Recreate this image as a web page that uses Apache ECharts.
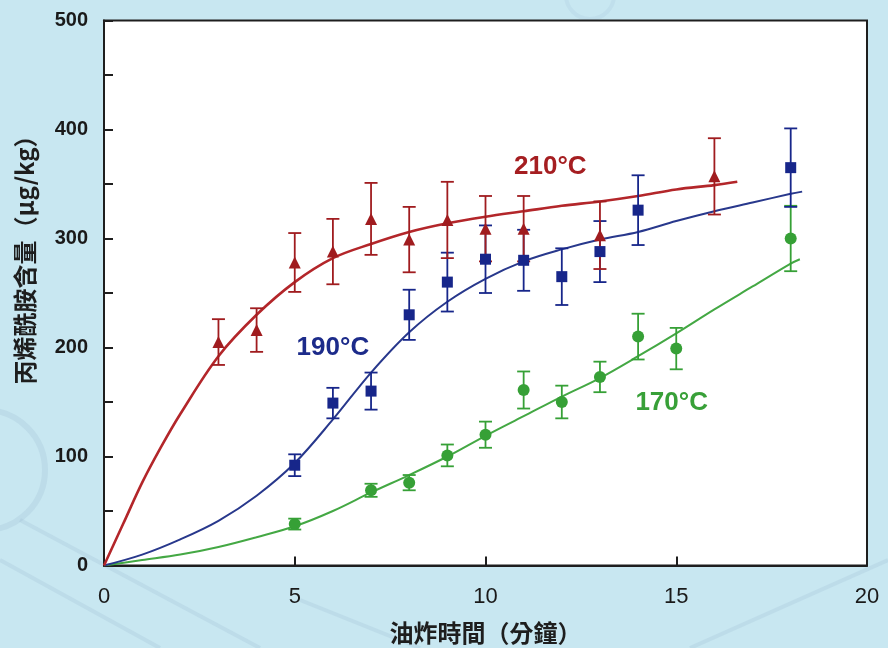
<!DOCTYPE html>
<html>
<head>
<meta charset="utf-8">
<script src="https://cdn.jsdelivr.net/npm/echarts@6/dist/echarts.min.js"></script>
<style>
html,body{margin:0;padding:0;background:#c8e7f1;}
#chart{width:888px;height:648px;}
</style>
</head>
<body>
<div id="chart"></div>
<script>
// ---- tick labels ----
const xTicks = [0, 5, 10, 15, 20];
const yTicks = [0, 100, 200, 300, 400, 500];

// ---- 210°C measurements ----
const times210 = [3, 4, 5, 6, 7, 8, 9, 10, 11, 13, 16];
const means210 = [205, 216, 278, 288, 318, 299, 317, 309, 309, 303, 357];
const err210   = [21, 20, 27, 30, 33, 30, 35, 30, 30, 31, 35];

// ---- 190°C measurements ----
const times190 = [5, 6, 7, 8, 9, 10, 11, 12, 13, 14, 18];
const means190 = [92, 149, 160, 230, 260, 281, 280, 265, 288, 326, 365];
const err190   = [10, 14, 17, 23, 27, 31, 28, 26, 28, 32, 36];

// ---- 170°C measurements ----
const times170 = [5, 7, 8, 9, 10, 11, 12, 13, 14, 15, 18];
const means170 = [38, 69, 76, 101, 120, 161, 150, 173, 210, 199, 300];
const err170   = [5, 6, 7, 10, 12, 17, 15, 14, 21, 19, 30];

// ---- fitted curves ----
const fit210X = [0, 0.5, 1, 1.5, 2, 3, 4, 5, 6, 7, 8, 9, 10, 11, 12, 13, 14, 15, 16, 16.6];
const fit210Y = [0, 38, 76, 109, 139, 192, 230, 260, 282, 295, 306, 314, 320, 325, 330, 334, 339, 345, 349, 352];
const fit190X = [0, 1, 2, 3, 4, 5, 6, 7, 8, 9, 10, 11, 12, 13, 14, 15, 16, 17, 18, 18.3];
const fit190Y = [0, 10, 24, 41, 64, 94, 134, 177, 214, 242, 263, 279, 290, 299, 306, 316, 325, 333, 341, 343];
const fit170X = [0, 1, 2, 3, 4, 5, 6, 7, 8, 9, 10, 11, 12, 13, 14, 15, 16, 17, 18, 18.24];
const fit170Y = [0, 5, 10, 17, 26, 36, 50, 67, 83, 100, 119, 137, 155, 172, 192, 213, 235, 256, 277, 281];

// ---- curve labels ----
const labelText = ['210°C', '190°C', '170°C'];
const labelX = [11.7, 6.0, 14.88];
const labelY = [366, 200, 149];

const RED = '#a01c1f', RED_LINE = '#b3262a';
const BLUE = '#17268a', BLUE_LINE = '#28388c';
const GREEN = '#36a036', GREEN_LINE = '#44a844';
const labelColors = ['#a51e21', '#1c2b8a', '#38a038'];

function zip(a, b) { return a.map((v, i) => [v, b[i]]); }

function errorBars(times, means, errs, color) {
  return {
    type: 'custom',
    z: 3,
    data: times.map((t, i) => [t, means[i] - errs[i], means[i] + errs[i]]),
    encode: { x: 0, y: [1, 2] },
    renderItem: function (params, api) {
      const x = api.value(0);
      const lo = api.coord([x, api.value(1)]);
      const hi = api.coord([x, api.value(2)]);
      const w = 6.5;
      const st = { stroke: color, lineWidth: 1.8 };
      return {
        type: 'group',
        children: [
          { type: 'line', shape: { x1: lo[0], y1: lo[1], x2: hi[0], y2: hi[1] }, style: st },
          { type: 'line', shape: { x1: lo[0] - w, y1: lo[1], x2: lo[0] + w, y2: lo[1] }, style: st },
          { type: 'line', shape: { x1: hi[0] - w, y1: hi[1], x2: hi[0] + w, y2: hi[1] }, style: st }
        ]
      };
    }
  };
}

function fitLine(xs, ys, color, width) {
  return {
    type: 'line', z: 2, smooth: 0.35, showSymbol: false, silent: true,
    data: zip(xs, ys),
    lineStyle: { color: color, width: width }
  };
}

function markers(xs, ys, symbol, size, color) {
  return {
    type: 'scatter', z: 4, symbol: symbol, symbolSize: size,
    data: zip(xs, ys),
    itemStyle: { color: color, opacity: 1 }
  };
}

const decorStroke = 'rgba(150,180,205,0.22)';
const decor = [
  { type: 'circle', shape: { cx: -15, cy: 470, r: 60 }, style: { fill: 'none', stroke: decorStroke, lineWidth: 6 } },
  { type: 'line', shape: { x1: 20, y1: 520, x2: 260, y2: 648 }, style: { stroke: decorStroke, lineWidth: 4 } },
  { type: 'line', shape: { x1: 0, y1: 560, x2: 160, y2: 648 }, style: { stroke: decorStroke, lineWidth: 4 } },
  { type: 'line', shape: { x1: 300, y1: 600, x2: 420, y2: 648 }, style: { stroke: decorStroke, lineWidth: 4 } },
  { type: 'line', shape: { x1: 690, y1: 648, x2: 888, y2: 560 }, style: { stroke: decorStroke, lineWidth: 4 } },
  { type: 'circle', shape: { cx: 590, cy: -5, r: 24 }, style: { fill: 'none', stroke: 'rgba(150,180,205,0.15)', lineWidth: 4 } }
];

const chart = echarts.init(document.getElementById('chart'), null, { renderer: 'canvas' });
chart.setOption({
  animation: false,
  backgroundColor: '#c8e7f1',
  grid: {
    left: 104, right: 21, top: 20.5, bottom: 82.5,
    show: true, backgroundColor: '#ffffff', borderColor: '#1e1e1e', borderWidth: 2,
    outerBoundsMode: 'none', containLabel: false
  },
  graphic: [
    ...decor.map(d => Object.assign({ z: -10, silent: true }, d)),
    {
      type: 'text', x: 25, y: 254, rotation: Math.PI / 2, z: 10,
      style: {
        text: '丙烯酰胺含量（μg/kg）',
        font: 'bold 24px "Noto Sans CJK TC", "Noto Sans CJK SC", sans-serif',
        fill: '#1e1e1e', textAlign: 'center', textVerticalAlign: 'middle'
      }
    }
  ],
  xAxis: {
    type: 'value',
    min: xTicks[0], max: xTicks[xTicks.length - 1], interval: xTicks[1] - xTicks[0],
    name: '油炸時間（分鐘）', nameLocation: 'middle', nameGap: 55,
    nameTextStyle: { fontFamily: '"Noto Sans CJK TC", sans-serif', fontSize: 24, fontWeight: 'bold', color: '#1e1e1e' },
    axisLine: { show: true, onZero: false, lineStyle: { color: '#1e1e1e', width: 2 } },
    axisTick: { show: true, inside: true, length: 9, lineStyle: { color: '#1e1e1e', width: 2 } },
    axisLabel: { margin: 20, fontFamily: '"Liberation Sans", Arial, sans-serif', fontSize: 22, fontWeight: 500, color: '#1a1a1a',
      formatter: v => xTicks.includes(v) ? String(v) : '' },
    splitLine: { show: false }
  },
  yAxis: {
    type: 'value',
    min: yTicks[0], max: yTicks[yTicks.length - 1], interval: yTicks[1] - yTicks[0],
    axisLine: { show: true, onZero: false, lineStyle: { color: '#1e1e1e', width: 2 } },
    axisTick: { show: true, inside: true, length: 9, lineStyle: { color: '#1e1e1e', width: 2 } },
    minorTick: { show: true, splitNumber: 2, length: 9, lineStyle: { color: '#1e1e1e', width: 2 } },
    axisLabel: { margin: 16, fontFamily: '"Liberation Sans", Arial, sans-serif', fontSize: 20, fontWeight: 'bold', color: '#1a1a1a' },
    splitLine: { show: false }
  },
  series: [
    fitLine(fit170X, fit170Y, GREEN_LINE, 2),
    fitLine(fit190X, fit190Y, BLUE_LINE, 2),
    fitLine(fit210X, fit210Y, RED_LINE, 2.6),
    errorBars(times170, means170, err170, GREEN),
    errorBars(times190, means190, err190, BLUE),
    errorBars(times210, means210, err210, RED),
    markers(times170, means170, 'circle', 12, GREEN),
    markers(times190, means190, 'rect', 11, BLUE),
    markers(times210, means210, 'triangle', 12, RED),
    {
      type: 'scatter', z: 6, symbolSize: 1, silent: true,
      itemStyle: { color: 'rgba(0,0,0,0)', opacity: 1 },
      data: labelText.map((t, i) => ({
        value: [labelX[i], labelY[i]],
        label: {
          show: true, position: 'inside', formatter: t, opacity: 1,
          fontFamily: '"Liberation Sans", Arial, sans-serif', fontSize: 26, fontWeight: 'bold',
          color: labelColors[i]
        }
      }))
    }
  ]
});
</script>
</body>
</html>
